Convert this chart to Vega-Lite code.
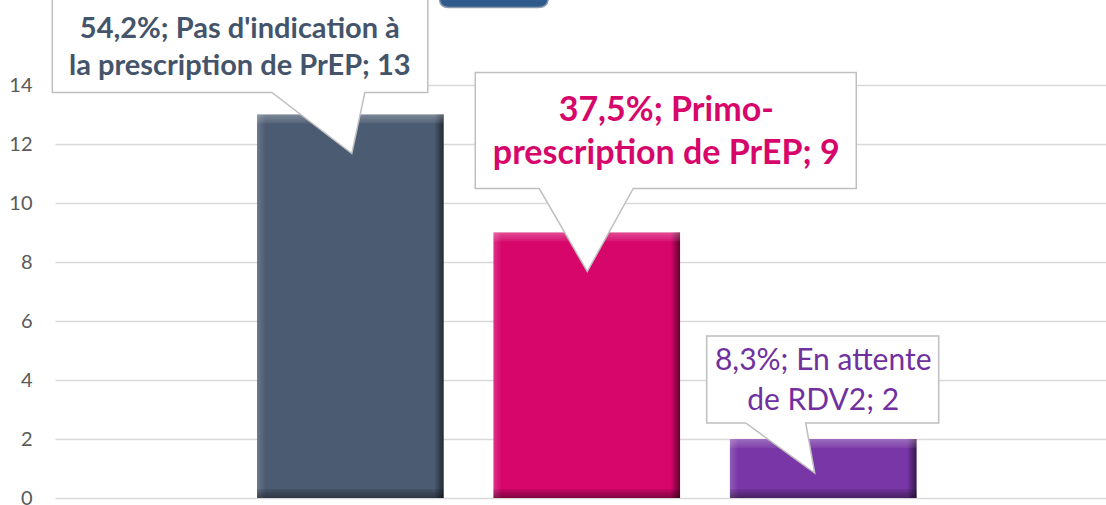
{
  "$schema": "https://vega.github.io/schema/vega-lite/v6.json",
  "autosize": {"type": "none"},
  "width": 1051,
  "height": 413,
  "padding": {"left": 55, "top": 85, "right": 0, "bottom": 7},
  "background": "white",
  "config": {"view": {"stroke": null}},
  "data": {
    "values": [
      {"cat": "Pas d'indication à la prescription de PrEP", "pct": "54,2%", "value": 13, "label": "54,2%; Pas d'indication à\nla prescription de PrEP; 13"},
      {"cat": "Primo-prescription de PrEP", "pct": "37,5%", "value": 9, "label": "37,5%; Primo-\nprescription de PrEP; 9"},
      {"cat": "En attente de RDV2", "pct": "8,3%", "value": 2, "label": "8,3%; En attente\nde RDV2; 2"}
    ]
  },
  "encoding": {
    "x": {
      "field": "cat", "type": "nominal", "sort": null,
      "scale": {"domain": ["Pas d'indication à la prescription de PrEP", "Primo-prescription de PrEP", "En attente de RDV2"], "paddingInner": 0.211, "paddingOuter": 0.828, "align": 0.516},
      "axis": null
    },
    "y": {
      "field": "value", "type": "quantitative",
      "scale": {"domain": [0, 14], "nice": false, "zero": true},
      "axis": {"values": [0, 2, 4, 6, 8, 10, 12, 14], "title": null, "grid": true, "gridColor": "#d9d9d9", "gridWidth": 1.3, "domain": false, "ticks": false, "labelPadding": 23, "labelFont": "Lato", "labelFontSize": 20, "labelColor": "#595959"}
    }
  },
  "layer": [
    {
      "mark": {"type": "bar"},
      "encoding": {
        "color": {"field": "cat", "type": "nominal", "legend": null,
          "scale": {"domain": ["Pas d'indication à la prescription de PrEP", "Primo-prescription de PrEP", "En attente de RDV2"], "range": ["#4b5b71", "#d6066b", "#7836a6"]}}
      }
    },
    {
      "mark": {"type": "bar", "color": {"gradient": "linear", "x1": 0, "y1": 0, "x2": 1, "y2": 0,
        "stops": [
          {"offset": 0, "color": "rgba(255,255,255,0.18)"},
          {"offset": 0.045, "color": "rgba(255,255,255,0)"},
          {"offset": 0.95, "color": "rgba(0,0,0,0)"},
          {"offset": 1, "color": "rgba(0,0,0,0.55)"}
        ]}}
    },
    {
      "mark": {"type": "bar", "y2Offset": 9, "color": {"gradient": "linear", "x1": 0, "y1": 0, "x2": 0, "y2": 1,
        "stops": [
          {"offset": 0, "color": "rgba(255,255,255,0.28)"},
          {"offset": 1, "color": "rgba(255,255,255,0.05)"}
        ]}},
      "encoding": {"y2": {"field": "value"}}
    },
    {
      "mark": {"type": "bar", "yOffset": -9, "color": {"gradient": "linear", "x1": 0, "y1": 0, "x2": 0, "y2": 1,
        "stops": [
          {"offset": 0, "color": "rgba(0,0,0,0.08)"},
          {"offset": 1, "color": "rgba(0,0,0,0.4)"}
        ]}},
      "encoding": {"y": {"datum": 0, "type": "quantitative"}, "y2": {"datum": 0}}
    },
    {
      "transform": [{"filter": "datum.value == 13"}],
      "mark": {"type": "point", "shape": "M-298,-140 H77.5 V-22 H14.5 L1.5,39 L-78.5,-22 H-298 Z", "size": 4, "filled": true, "fill": "white", "stroke": "#bfbfbf", "strokeWidth": 1.5, "opacity": 1}
    },
    {
      "transform": [{"filter": "datum.value == 9"}],
      "mark": {"type": "point", "shape": "M-111.5,-160 H269.5 V-44 H46.5 L0.5,39 L-47.5,-44 H-111.5 Z", "size": 4, "filled": true, "fill": "white", "stroke": "#bfbfbf", "strokeWidth": 1.5, "opacity": 1}
    },
    {
      "transform": [{"filter": "datum.value == 2"}],
      "mark": {"type": "point", "shape": "M-116.5,-103 H115.5 V-16 H-17.5 L-8.5,34 L-77.5,-16 H-116.5 Z", "size": 4, "filled": true, "fill": "white", "stroke": "#bfbfbf", "strokeWidth": 1.5, "opacity": 1}
    },
    {
      "transform": [{"filter": "datum.value == 13"}],
      "mark": {"type": "point", "shape": "M96,-140 H190 Q198,-140 198,-128 V-117 Q198,-107 188,-107 H98 Q89,-107 89,-117 V-128 Q89,-140 96,-140 Z", "size": 4, "filled": true, "fill": "#2f5b8c", "stroke": "#8a9bb0", "strokeWidth": 1.5, "opacity": 1}
    },
    {
      "transform": [{"filter": "datum.value == 13"}],
      "mark": {"type": "text", "font": "Lato", "fontWeight": "bold", "fontSize": 29, "color": "#44546a", "align": "center", "baseline": "alphabetic", "lineBreak": "\n", "lineHeight": 37, "dx": -110.5, "dy": -77},
      "encoding": {"text": {"field": "label", "type": "nominal"}}
    },
    {
      "transform": [{"filter": "datum.value == 9"}],
      "mark": {"type": "text", "font": "Lato", "fontWeight": "bold", "fontSize": 34, "color": "#d6066b", "align": "center", "baseline": "alphabetic", "lineBreak": "\n", "lineHeight": 43, "dx": 79.5, "dy": -112},
      "encoding": {"text": {"field": "label", "type": "nominal"}}
    },
    {
      "transform": [{"filter": "datum.value == 2"}],
      "mark": {"type": "text", "font": "Lato", "fontWeight": "normal", "fontSize": 30, "color": "#7030a0", "align": "center", "baseline": "alphabetic", "lineBreak": "\n", "lineHeight": 40, "dx": 0, "dy": -69},
      "encoding": {"text": {"field": "label", "type": "nominal"}}
    }
  ]
}
